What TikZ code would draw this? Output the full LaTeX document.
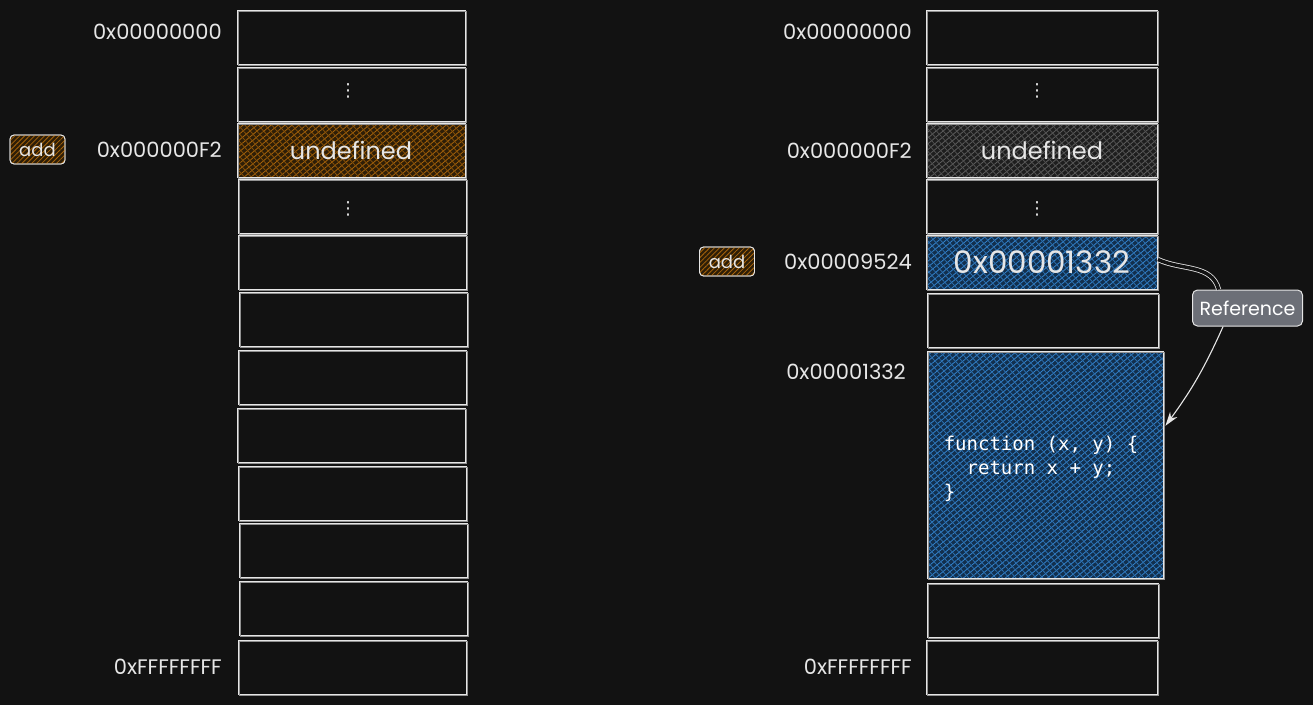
\documentclass[tikz,border=0pt]{standalone}
\usepackage{fontspec}
\setmainfont{Poppins}
\newfontfamily\codefont{DejaVu Sans Mono}
\newfontfamily\symfont{DejaVu Sans}
\usetikzlibrary{patterns.meta,calc,arrows.meta}
\definecolor{bg}{HTML}{121212}
\definecolor{ink}{HTML}{E6E6E6}
\definecolor{orbase}{HTML}{2E1E07}
\definecolor{orline}{HTML}{A8640A}
\definecolor{grbase}{HTML}{1E1E1E}
\definecolor{grline}{HTML}{5E5E5E}
\definecolor{blbase}{HTML}{122F4D}
\definecolor{blline}{HTML}{3382CC}
\definecolor{refgray}{HTML}{6C6F77}
\tikzset{
  cell/.style={draw=ink, line width=0.9pt, minimum width=228, minimum height=54, inner sep=0,
    postaction={draw=ink!60!bg, line width=0.5pt, transform canvas={shift={(1.2pt,-1pt)}}}},
  rcell/.style={cell, minimum width=231},
  hatch/.style n args={3}{fill=#1,
    postaction={pattern={Lines[angle=40,distance=4.5pt,line width=0.8pt]}, pattern color=#2},
    postaction={pattern={Lines[angle=-48,distance=5pt,line width=0.8pt]}, pattern color=#3},
    postaction={draw=ink, line width=0.9pt}},
  addr/.style={anchor=east, text=ink, font=\fontsize{21}{21}\selectfont, inner sep=0},
  big/.style={text=ink, font=\fontsize{24}{24}\selectfont},
  dots/.style={text=ink, font=\symfont\fontsize{18}{18}\selectfont, inner sep=0},
  tag/.style={draw=ink, rounded corners=4pt, line width=0.8pt, fill=orbase,
    postaction={pattern={Lines[angle=45,distance=3.5pt,line width=0.8pt]}, pattern color=orline},
    postaction={draw=ink, line width=0.8pt, rounded corners=4pt},
    minimum width=55, minimum height=29, inner sep=0, text=ink, font=\fontsize{18}{18}\selectfont},
  reftag/.style={draw=ink, rounded corners=5pt, line width=1pt, fill=refgray,
    minimum width=110, minimum height=36, inner sep=0, text=white, font=\fontsize{19}{19}\selectfont},
  link/.style={draw=ink, line width=0.8pt, double=bg, double distance=3.5pt},
  ptr/.style={draw=ink, line width=1.1pt, -{Stealth[length=14pt,width=9pt]}}
}
\begin{document}
\begin{tikzpicture}[x=1pt,y=-1pt]
\fill[bg] (0,0) rectangle (1313,705);
\useasboundingbox (0,0) rectangle (1313,705);

% ---------- left column ----------
\node[cell] (L0) at (351,37.5) {};
\node[cell] (L1) at (351,94) {};
\node[hatch={orbase}{orline}{orline!80!black}, cell, big] (L2) at (351,150.5) {undefined};
\node[cell] (L3) at (352,206.5) {};
\node[cell] (L4) at (352,262.5) {};
\node[cell] (L5) at (353,319.5) {};
\node[cell] (L6) at (352,377.5) {};
\node[cell] (L7) at (351,435.5) {};
\node[cell] (L8) at (352,493.5) {};
\node[cell] (L9) at (353,550.5) {};
\node[cell] (L10) at (353,608.5) {};
\node[cell] (L11) at (352,667) {};
\node[dots] (L1d) at (348,91) {⋮};
\node[dots] (L3d) at (348,209) {⋮};

\node[addr] (la0) at (222,32) {0x00000000};
\node[addr] (la2) at (222,150) {0x000000F2};
\node[addr] (la11) at (222,667) {0xFFFFFFFF};
\node[tag] (addL) at (37.5,149.5) {add};

% ---------- right column ----------
\node[rcell] (R0) at (1042,37.5) {};
\node[rcell] (R1) at (1042,94) {};
\node[hatch={grbase}{grline}{grline!85!black}, rcell, big] (R2) at (1042,150.5) {undefined};
\node[rcell] (R3) at (1042,206.5) {};
\node[hatch={blbase}{blline}{blline!85!black}, rcell, text=ink, font=\fontsize{31}{31}\selectfont] (R4) at (1042,262.5) {0x00001332};
\node[rcell] (R5) at (1043,320) {};
\node[hatch={blbase}{blline}{blline!85!black}, rcell, minimum width=236, minimum height=227] (R6) at (1045,464.5) {};
\node[rcell] (R7) at (1043,610) {};
\node[rcell] (R8) at (1042,667) {};
\node[dots] (R1d) at (1037,91) {⋮};
\node[dots] (R3d) at (1037,209) {⋮};
\node[anchor=west, align=left, text=white, font=\codefont\fontsize{19}{24}\selectfont, inner sep=0] (code) at ($(R6.west)+(17,4.5)$)
  {function (x, y) \{\\\ \ return x + y;\\\}};

\node[addr] (ra0) at (912,32) {0x00000000};
\node[addr] (ra2) at (912,151) {0x000000F2};
\node[addr] (ra4) at (912,262) {0x00009524};
\node[addr] (ra6) at (906,372) {0x00001332};
\node[addr] (ra8) at (912,667) {0xFFFFFFFF};
\node[tag] (addR) at (727,261.5) {add};

% ---------- reference ----------
\node[reftag] (ref) at (1247.5,308) {Reference};
\draw[link] ($(R4.east)+(0,-3)$) to[out=-25,in=105] ($(ref.north west)!0.24!(ref.north east)$);
\draw[ptr] ($(ref.south west)!0.28!(ref.south east)$) to[bend left=6] ($(R6.north east)!0.33!(R6.south east)+(2,0)$);
\end{tikzpicture}
\end{document}
